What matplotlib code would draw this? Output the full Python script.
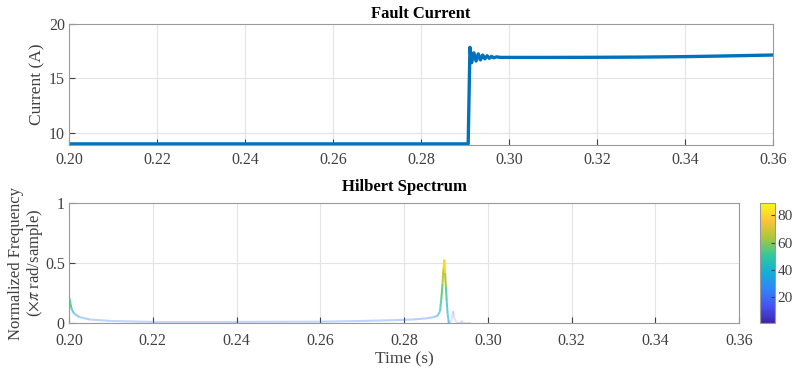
import matplotlib.pyplot as plt
import numpy as np
from matplotlib.collections import LineCollection
from matplotlib.colors import LinearSegmentedColormap, Normalize

plt.rcParams['font.family'] = ['Liberation Serif', 'DejaVu Serif']
plt.rcParams['mathtext.fontset'] = 'stix'

# Fault current (A) vs time (s)
t_cur = [0.200, 0.2907, 0.2911, 0.2915, 0.2920, 0.2925, 0.2930, 0.2935, 0.2940,
         0.2945, 0.2950, 0.2955, 0.2960, 0.2965, 0.2972, 0.2980, 0.300, 0.310,
         0.320, 0.330, 0.340, 0.350, 0.360]
i_cur = [9.0, 9.0, 17.85, 16.45, 17.35, 16.6, 17.25, 16.7, 17.15,
         16.8, 17.08, 16.85, 17.02, 16.9, 16.98, 16.93, 16.93, 16.93,
         16.94, 16.96, 17.0, 17.07, 17.15]

# Hilbert spectrum: instantaneous frequency and amplitude
t_hs = [0.200, 0.2006, 0.2012, 0.2025, 0.205, 0.210, 0.220, 0.240, 0.260, 0.270,
        0.278, 0.282, 0.2855, 0.2870, 0.2880, 0.2886, 0.2889, 0.2892, 0.2894,
        0.2896, 0.2898, 0.2900, 0.2902, 0.2904, 0.2907]
f_hs = [0.22, 0.12, 0.08, 0.05, 0.03, 0.018, 0.01, 0.01, 0.012, 0.018,
        0.025, 0.03, 0.04, 0.05, 0.06, 0.10, 0.20, 0.33, 0.45,
        0.53, 0.42, 0.30, 0.18, 0.08, 0.0]
a_hs = [60, 45, 35, 28, 24, 22, 20, 20, 21, 22,
        23, 24, 25, 27, 30, 40, 50, 62, 76,
        88, 72, 56, 46, 40, 38]

t_hs2 = [0.2907, 0.2913, 0.2917, 0.2921, 0.2927, 0.2935, 0.2938, 0.2942, 0.2950, 0.2960]
f_hs2 = [0.0, 0.02, 0.10, 0.03, 0.0, 0.0, 0.02, 0.0, 0.0, 0.0]
a_hs2 = [14, 14, 14, 14, 12, 10, 10, 10, 10, 10]

x_ticks = [0.20, 0.22, 0.24, 0.26, 0.28, 0.30, 0.32, 0.34, 0.36]

parula = LinearSegmentedColormap.from_list('parula', [
    (0.2422, 0.1504, 0.6603), (0.2810, 0.3228, 0.9579), (0.1786, 0.5289, 0.9682),
    (0.0689, 0.6948, 0.8394), (0.2161, 0.7843, 0.5923), (0.6720, 0.7793, 0.2227),
    (0.9970, 0.7659, 0.2199), (0.9769, 0.9839, 0.0805)])
norm = Normalize(1, 89)

fig = plt.figure(figsize=(7.93, 3.68), dpi=100)
ax1 = fig.add_axes([0.087, 0.606, 0.888, 0.329])
ax2 = fig.add_axes([0.087, 0.122, 0.845, 0.326])
cax = fig.add_axes([0.958, 0.122, 0.019, 0.326])

def style(ax, xpad):
    ax.grid(True, color='#e3e3e3', linewidth=0.8)
    ax.set_axisbelow(True)
    for s in ax.spines.values():
        s.set_color('#9a9a9a')
    ax.tick_params(direction='in', colors='#404040', labelsize=11.5, length=4, pad=3)
    ax.tick_params(axis='x', pad=xpad)

# top panel
ax1.plot(t_cur, i_cur, color='#0072bd', linewidth=2.4)
ax1.set_xlim(0.20, 0.36)
ax1.set_ylim(8.9, 20)
ax1.set_xticks(x_ticks)
ax1.set_xticklabels(['%.2f' % v for v in x_ticks])
ax1.set_yticks([10, 15, 20])
ax1.set_ylabel('Current (A)', fontsize=12.5, color='#404040')
ax1.yaxis.set_label_coords(-0.034, 0.5)
ax1.set_title('Fault Current', fontsize=12, fontweight='bold', pad=4)
style(ax1, 5)

# bottom panel
def colored(t, f, a):
    pts = np.column_stack([t, f]).reshape(-1, 1, 2)
    segs = np.concatenate([pts[:-1], pts[1:]], axis=1)
    amp = (np.array(a[:-1]) + np.array(a[1:])) / 2
    cols = parula(norm(amp))
    cols[:, 3] = np.clip((amp - 5) / 55, 0.15, 1)
    return LineCollection(segs, colors=cols, linewidths=1.5)

ax2.add_collection(colored(t_hs, f_hs, a_hs))
ax2.add_collection(colored(t_hs2, f_hs2, a_hs2))
ax2.set_xlim(0.20, 0.36)
ax2.set_ylim(0, 1)
ax2.set_xticks(x_ticks)
ax2.set_xticklabels(['%.2f' % v for v in x_ticks])
ax2.set_yticks([0, 0.5, 1])
ax2.set_yticklabels(['0', '0.5', '1'])
ax2.set_ylabel('Normalized Frequency\n($\\times\\pi$ rad/sample)', fontsize=12,
               color='#404040', linespacing=1.05)
ax2.yaxis.set_label_coords(-0.036, 0.5)
ax2.set_xlabel('Time (s)', fontsize=12.5, color='#404040', labelpad=2)
ax2.set_title('Hilbert Spectrum', fontsize=12, fontweight='bold', pad=9)
style(ax2, 7)

sm = plt.cm.ScalarMappable(cmap=parula, norm=norm)
cb = fig.colorbar(sm, cax=cax, ticks=[20, 40, 60, 80])
cb.outline.set_edgecolor('#9a9a9a')
cax.tick_params(direction='in', colors='#404040', labelsize=11, length=3, pad=2)

fig.savefig('out.png', dpi=100)
